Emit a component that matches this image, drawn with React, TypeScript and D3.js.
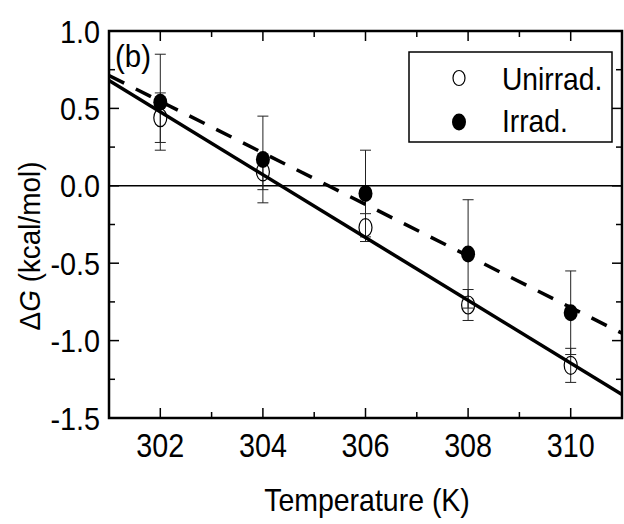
import React from "react";
import * as d3 from "d3";

const temps = [302, 304, 306, 308, 310];
const unirrad = [0.44, 0.09, -0.27, -0.77, -1.16];
const unirradErr = [0.16, 0.115, 0.09, 0.1, 0.11];
const irrad = [0.54, 0.17, -0.05, -0.44, -0.82];
const irradErr = [0.31, 0.28, 0.28, 0.35, 0.27];
const xTicks = [302, 304, 306, 308, 310];
const yTicks = [1.0, 0.5, 0.0, -0.5, -1.0, -1.5];
const xMinor = [301, 303, 305, 307, 309, 311];
const yMinor = [0.75, 0.25, -0.25, -0.75, -1.25];
const seriesNames = ["Unirrad.", "Irrad."];

const W = 624, H = 524;
const L = 109, R = 622, T = 31, B = 418;
const FONT = "Liberation Sans, Arial, sans-serif";

function fit(xs: number[], ys: number[]) {
  const mx = d3.mean(xs)!, my = d3.mean(ys)!;
  let num = 0, den = 0;
  xs.forEach((x, i) => { num += (x - mx) * (ys[i] - my); den += (x - mx) ** 2; });
  const s = num / den;
  return (x: number) => my + s * (x - mx);
}

function CText(props: { x: number; y: number; size: number; sx?: number; anchor?: string; rotate?: number; children: React.ReactNode }) {
  const { x, y, size, sx = 0.89, anchor = "start", rotate = 0, children } = props;
  return (
    <text
      transform={`translate(${x},${y}) rotate(${rotate}) scale(${sx},1)`}
      textAnchor={anchor}
      fontFamily={FONT}
      fontSize={size}
      fill="#000"
    >
      {children}
    </text>
  );
}

const fmtY = (v: number) => d3.format(".1f")(v).replace("\u2212", "-");

export default function App() {
  const x = d3.scaleLinear().domain([301, 311]).range([L, R]);
  const y = d3.scaleLinear().domain([-1.5, 1.0]).range([B, T]);
  const f1 = fit(temps, unirrad);
  const f2 = fit(temps, irrad);
  const dom = x.domain();
  const cap = 5.5;
  const fitLine = (f: (v: number) => number) =>
    d3.line<number>().x(d => x(d)).y(d => y(f(d)))([dom[0], dom[1]]) ?? "";

  const errBars = (vals: number[], errs: number[], key: string) =>
    temps.map((t, i) => {
      const cx = x(t), y1 = y(vals[i] + errs[i]), y2 = y(vals[i] - errs[i]);
      return (
        <g key={key + i} stroke="#222" strokeWidth={1}>
          <line x1={cx} x2={cx} y1={y1} y2={y2} />
          <line x1={cx - cap} x2={cx + cap} y1={y1} y2={y1} />
          <line x1={cx - cap} x2={cx + cap} y1={y2} y2={y2} />
        </g>
      );
    });

  return (
    <svg width={W} height={H} style={{ position: "absolute", left: 0, top: 0, background: "#fff" }}>
      <rect width={W} height={H} fill="#fff" />
      <defs>
        <clipPath id="plot"><rect x={L} y={T} width={R - L} height={B - T} /></clipPath>
      </defs>
      <line x1={L} x2={R} y1={y(0)} y2={y(0)} stroke="#000" strokeWidth={1.5} />
      <g clipPath="url(#plot)">
        {errBars(unirrad, unirradErr, "u")}
        {errBars(irrad, irradErr, "i")}
        <path d={fitLine(f1)} fill="none" stroke="#000" strokeWidth={3.5} />
        <path d={fitLine(f2)} fill="none" stroke="#000" strokeWidth={3.5} strokeDasharray="17 13" />
        {temps.map((t, i) => (
          <ellipse key={"uo" + i} cx={x(t)} cy={y(unirrad[i])} rx={6.5} ry={9} fill="none" stroke="#000" strokeWidth={1.2} />
        ))}
        {temps.map((t, i) => (
          <ellipse key={"if" + i} cx={x(t)} cy={y(irrad[i])} rx={7} ry={8.5} fill="#000" />
        ))}
      </g>
      <g stroke="#000" strokeWidth={1.5}>
        {xTicks.map(t => (
          <g key={"xt" + t}>
            <line x1={x(t)} x2={x(t)} y1={B} y2={B - 10} />
            <line x1={x(t)} x2={x(t)} y1={T} y2={T + 10} />
          </g>
        ))}
        {xMinor.map(t => (
          <g key={"xm" + t}>
            <line x1={x(t)} x2={x(t)} y1={B} y2={B - 6} />
            <line x1={x(t)} x2={x(t)} y1={T} y2={T + 6} />
          </g>
        ))}
        {yTicks.map(t => (
          <g key={"yt" + t}>
            <line x1={L} x2={L + 10} y1={y(t)} y2={y(t)} />
            <line x1={R} x2={R - 10} y1={y(t)} y2={y(t)} />
          </g>
        ))}
        {yMinor.map(t => (
          <g key={"ym" + t}>
            <line x1={L} x2={L + 6} y1={y(t)} y2={y(t)} />
            <line x1={R} x2={R - 6} y1={y(t)} y2={y(t)} />
          </g>
        ))}
      </g>
      <rect x={L} y={T} width={R - L} height={B - T} fill="none" stroke="#000" strokeWidth={2.5} />
      {xTicks.map(t => (
        <CText key={"xl" + t} x={x(t)} y={457} size={33} sx={0.87} anchor="middle">{String(t)}</CText>
      ))}
      {yTicks.map(t => (
        <CText key={"yl" + t} x={100} y={y(t) + 11.5} size={32} sx={0.9} anchor="end">{fmtY(t)}</CText>
      ))}
      <CText x={367} y={511} size={32} sx={0.89} anchor="middle">Temperature (K)</CText>
      <CText x={40} y={246} size={30} sx={0.93} anchor="middle" rotate={-90}>
        Δ<tspan fontStyle="italic">G</tspan> (kcal/mol)
      </CText>
      <CText x={115} y={67} size={32} sx={0.92}>(b)</CText>
      <rect x={409} y={52} width={203} height={90} fill="#fff" stroke="#000" strokeWidth={1.5} />
      <ellipse cx={459} cy={78} rx={6} ry={7.5} fill="none" stroke="#000" strokeWidth={1.2} />
      <ellipse cx={459} cy={122} rx={7} ry={8.5} fill="#000" />
      <CText x={502} y={90} size={31} sx={0.91}>{seriesNames[0]}</CText>
      <CText x={502} y={132} size={31} sx={0.91}>{seriesNames[1]}</CText>
    </svg>
  );
}
